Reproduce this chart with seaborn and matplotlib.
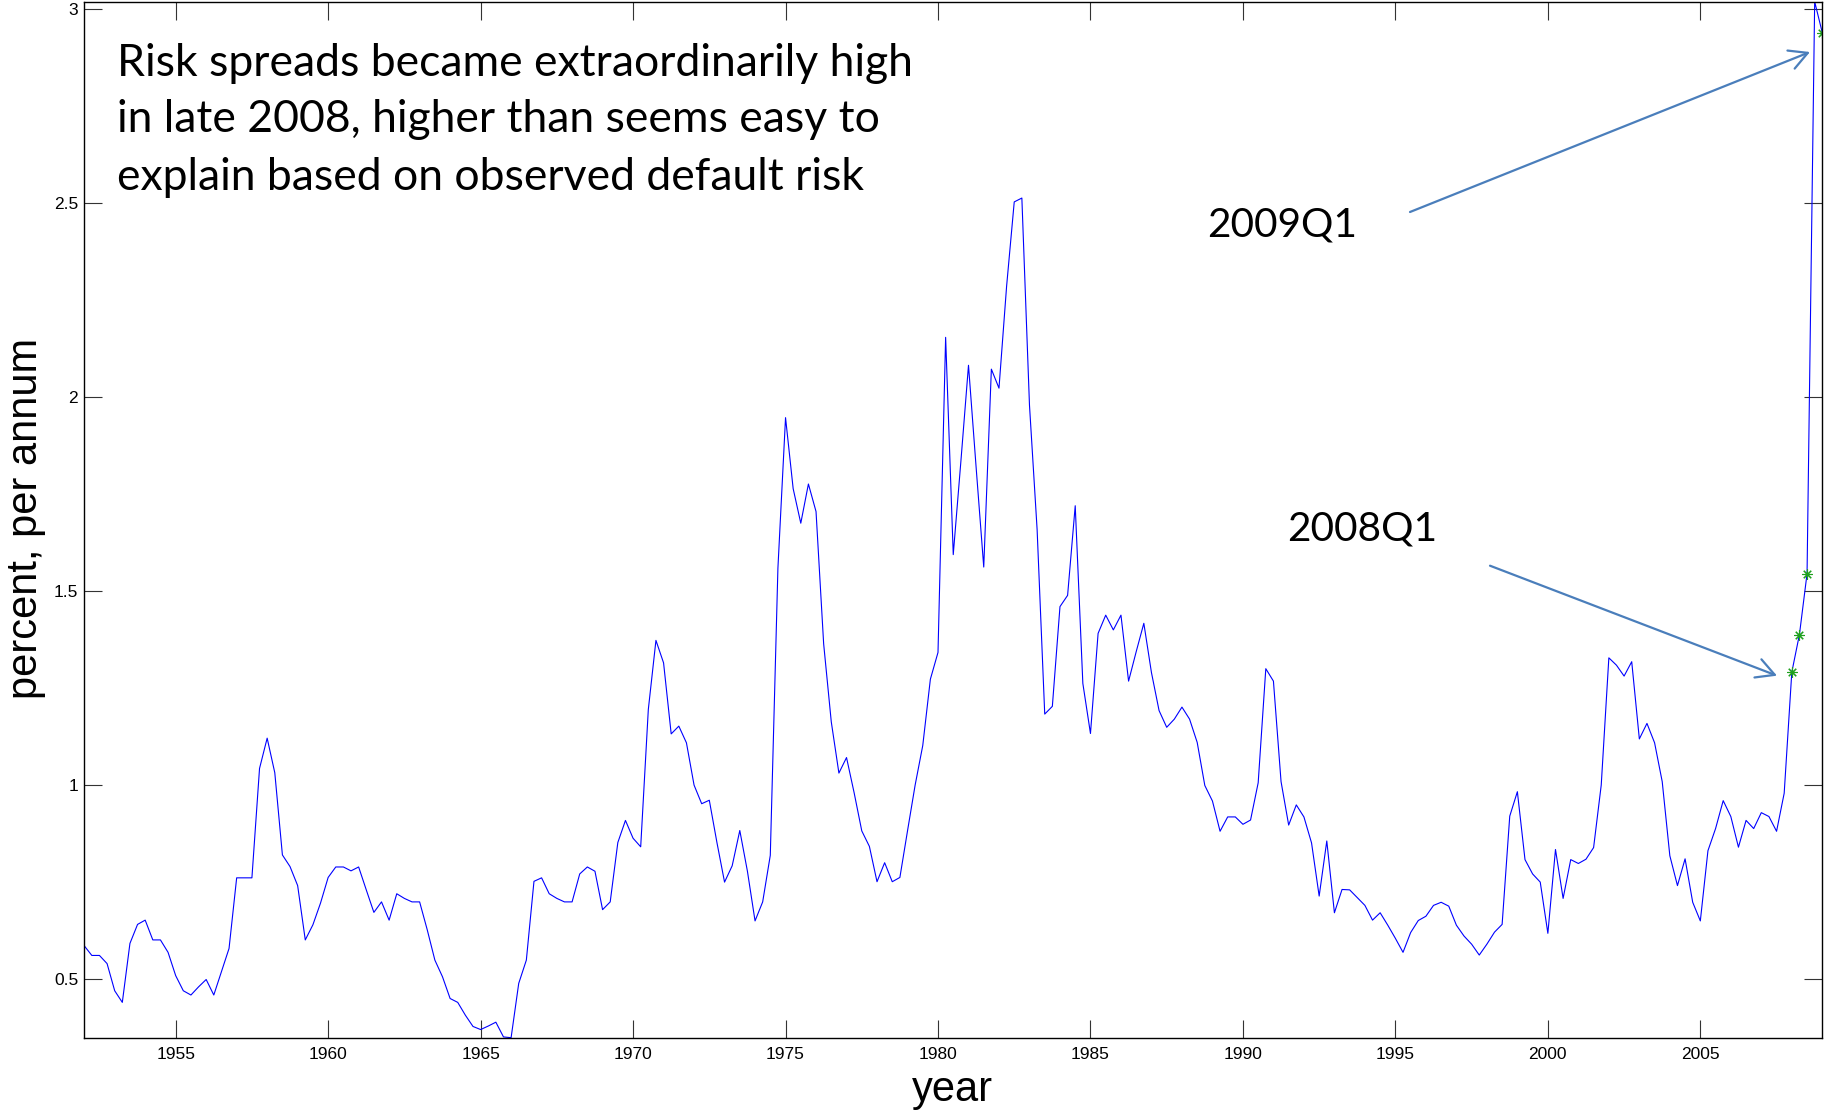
import matplotlib
matplotlib.use("Agg")
import matplotlib.pyplot as plt
from matplotlib.patches import ArrowStyle
import seaborn as sns
import numpy as np
import pandas as pd

# ---------------- data (quarterly, 1952Q1 .. 2009Q1) ----------------
START_YEAR = 1952
spread_1952_1959 = [0.587, 0.562, 0.562, 0.541, 0.471, 0.441, 0.593, 0.642,
                    0.653, 0.602, 0.602, 0.570, 0.510, 0.471, 0.460, 0.481,
                    0.500, 0.460, 0.520, 0.580, 0.762, 0.762, 0.762, 1.044,
                    1.122, 1.033, 0.821, 0.791, 0.742, 0.602, 0.641, 0.697]
spread_1960_1967 = [0.763, 0.790, 0.790, 0.780, 0.790, 0.731, 0.673, 0.700,
                    0.653, 0.721, 0.709, 0.700, 0.700, 0.628, 0.550, 0.507,
                    0.451, 0.441, 0.408, 0.379, 0.371, 0.380, 0.390, 0.352,
                    0.350, 0.490, 0.550, 0.753, 0.762, 0.721, 0.709, 0.700]
spread_1968_1975 = [0.700, 0.772, 0.790, 0.779, 0.680, 0.700, 0.853, 0.910,
                    0.864, 0.842, 1.196, 1.374, 1.316, 1.133, 1.153, 1.110,
                    1.001, 0.953, 0.962, 0.853, 0.751, 0.793, 0.884, 0.779,
                    0.651, 0.700, 0.820, 1.560, 1.948, 1.765, 1.676, 1.777]
spread_1976_1983 = [1.706, 1.365, 1.164, 1.032, 1.072, 0.981, 0.883, 0.843,
                    0.752, 0.801, 0.752, 0.763, 0.883, 1.001, 1.103, 1.274,
                    1.343, 2.155, 1.595, 1.835, 2.083, 1.820, 1.563, 2.073,
                    2.024, 2.287, 2.504, 2.514, 1.980, 1.660, 1.184, 1.204]
spread_1984_1991 = [1.461, 1.490, 1.721, 1.263, 1.134, 1.392, 1.439, 1.401,
                    1.439, 1.269, 1.345, 1.418, 1.291, 1.193, 1.150, 1.171,
                    1.202, 1.171, 1.111, 1.000, 0.960, 0.882, 0.919, 0.919,
                    0.900, 0.911, 1.007, 1.301, 1.269, 1.010, 0.898, 0.950]
spread_1992_1999 = [0.919, 0.852, 0.715, 0.857, 0.672, 0.732, 0.731, 0.711,
                    0.691, 0.653, 0.672, 0.640, 0.606, 0.570, 0.621, 0.652,
                    0.663, 0.691, 0.699, 0.689, 0.640, 0.612, 0.591, 0.563,
                    0.591, 0.622, 0.642, 0.921, 0.984, 0.809, 0.772, 0.751]
spread_2000_2009 = [0.619, 0.835, 0.709, 0.809, 0.799, 0.810, 0.840, 1.001,
                    1.329, 1.310, 1.282, 1.319, 1.120, 1.160, 1.110, 1.010,
                    0.819, 0.742, 0.811, 0.699, 0.651, 0.832, 0.889, 0.961,
                    0.920, 0.841, 0.910, 0.889, 0.930, 0.920, 0.882, 0.980,
                    1.292, 1.389, 1.546, 3.020, 2.940]

marked_quarters = [2008.0, 2008.25, 2008.5, 2009.0]

x_ticks = [1955, 1960, 1965, 1970, 1975, 1980, 1985, 1990, 1995, 2000, 2005]
y_ticks = [0.5, 1.0, 1.5, 2.0, 2.5, 3.0]
y_tick_labels = ["0.5", "1", "1.5", "2", "2.5", "3"]

title_lines = ["Risk spreads became extraordinarily high",
               "in late 2008, higher than seems easy to",
               "explain based on observed default risk"]
label_2009 = "2009Q1"
label_2008 = "2008Q1"
x_label = "year"
y_label = "percent, per annum"

spread = (spread_1952_1959 + spread_1960_1967 + spread_1968_1975 +
          spread_1976_1983 + spread_1984_1991 + spread_1992_1999 +
          spread_2000_2009)
years = [START_YEAR + i / 4 for i in range(len(spread))]
df = pd.DataFrame({"year": years, "spread": spread})
df_marked = df[df["year"].isin(marked_quarters)]

# ---------------- figure ----------------
W, H, DPI = 1825, 1112, 100
sns.set_style("ticks")
plt.rcParams["font.family"] = ["Liberation Sans", "DejaVu Sans"]

fig = plt.figure(figsize=(W / DPI, H / DPI), dpi=DPI)
fig.patch.set_facecolor("white")
ax_l, ax_r, ax_t, ax_b = 84.2, 1822.3, 1.7, 1037.7
ax = fig.add_axes([ax_l / W, 1 - ax_b / H, (ax_r - ax_l) / W, (ax_b - ax_t) / H])
ax.set_facecolor("white")

sns.lineplot(data=df, x="year", y="spread", ax=ax, color="#0000FF",
             linewidth=0.8, estimator=None, sort=False)
sns.lineplot(data=df_marked, x="year", y="spread", ax=ax, color="#1FA01F",
             marker=(8, 2, 0), markersize=7.5, markeredgewidth=0.8,
             markeredgecolor="#1FA01F", markerfacecolor="#1FA01F",
             linestyle="", estimator=None, sort=False)

ax.set_xlim(min(years), max(years))
ax.set_ylim(min(spread), max(spread))
ax.set_xticks(x_ticks)
ax.set_xticklabels([str(t) for t in x_ticks])
ax.set_yticks(y_ticks)
ax.set_yticklabels(y_tick_labels)
ax.tick_params(axis="both", direction="in", length=13, width=0.8,
               color="#333333", labelsize=12.5, labelcolor="black",
               top=True, right=True)
ax.tick_params(axis="x", pad=6.5)
ax.tick_params(axis="y", pad=4.3)
for s in ax.spines.values():
    s.set_visible(True)
    s.set_linewidth(1.0)
    s.set_color("black")
ax.set_xlabel("")
ax.set_ylabel("")

# axis labels
fig.text(952 / W, 1 - 1101 / H, x_label, fontsize=30, ha="center",
         va="baseline", color="black")
fig.text(37 / W, 1 - 518 / H, y_label, fontsize=30, ha="center",
         va="baseline", rotation=90, rotation_mode="anchor", color="black")

# annotation texts (Calibri-like)
renderer = fig.canvas.get_renderer()
ann_font = ["Lato", "DejaVu Sans"]


def fitted_size(text, target_w, base=30):
    t = fig.text(0, 0, text, fontsize=base, family=ann_font)
    w = t.get_window_extent(renderer).width
    t.remove()
    return base * target_w / w


title_size = fitted_size(title_lines[0], 795)
for line, base_y in zip(title_lines, [75.5, 132.5, 189.5]):
    fig.text(116.7 / W, 1 - base_y / H, line, fontsize=title_size,
             family=ann_font, ha="left", va="baseline", color="black")

q_size = fitted_size(label_2009, 150)
fig.text(1206.7 / W, 1 - 236.7 / H, label_2009, fontsize=q_size,
         family=ann_font, ha="left", va="baseline", color="black")
fig.text(1286.7 / W, 1 - 540 / H, label_2008, fontsize=q_size,
         family=ann_font, ha="left", va="baseline", color="black")

# arrows (figure pixel coordinates, y measured from the bottom)
arrow_style = ArrowStyle("->", head_length=1.3, head_width=0.7)
arrow_kw = dict(arrowstyle=arrow_style, color="#4A7EBB", lw=1.6,
                shrinkA=0, shrinkB=0, mutation_scale=10)
ax.annotate("", xy=(1810, H - 52), xycoords="figure pixels",
            xytext=(1410, H - 212), textcoords="figure pixels",
            arrowprops=arrow_kw, annotation_clip=False)
ax.annotate("", xy=(1777, H - 675.7), xycoords="figure pixels",
            xytext=(1490, H - 565.7), textcoords="figure pixels",
            arrowprops=arrow_kw, annotation_clip=False)

fig.savefig("out.png", dpi=DPI, facecolor="white")
